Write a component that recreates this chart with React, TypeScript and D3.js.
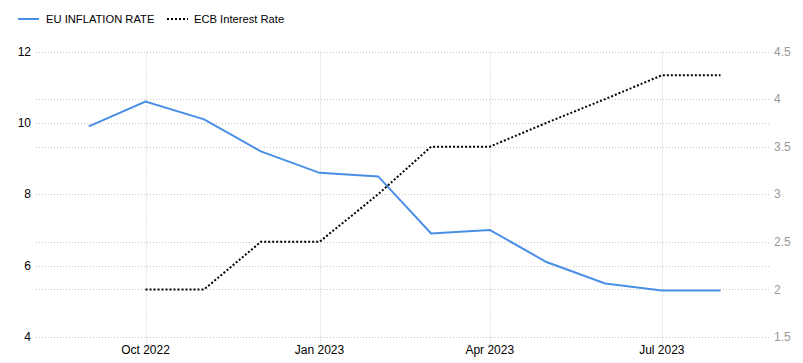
import React from "react";
import * as d3 from "d3";

const months = ["2022-09-01","2022-10-01","2022-11-01","2022-12-01","2023-01-01","2023-02-01","2023-03-01","2023-04-01","2023-05-01","2023-06-01","2023-07-01","2023-08-01"];
const inflation = [9.9, 10.6, 10.1, 9.2, 8.6, 8.5, 6.9, 7.0, 6.1, 5.5, 5.3, 5.3];
const ecbMonths = ["2022-10-01","2022-11-01","2022-12-01","2023-01-01","2023-02-01","2023-03-01","2023-04-01","2023-05-01","2023-06-01","2023-07-01","2023-08-01"];
const ecbRate = [2.0, 2.0, 2.5, 2.5, 3.0, 3.5, 3.5, 3.75, 4.0, 4.25, 4.25];
const leftTicks = [4, 6, 8, 10, 12];
const rightTicks = [1.5, 2, 2.5, 3, 3.5, 4, 4.5];
const xTicks = ["2022-10-01", "2023-01-01", "2023-04-01", "2023-07-01"];
const seriesNames = ["EU INFLATION RATE", "ECB Interest Rate"];

const W = 803, H = 363;
const left = 36, right = 770, top = 51.5, bottom = 337;
const parse = d3.timeParse("%Y-%m-%d");
const fmtX = d3.timeFormat("%b %Y");

export default function App() {
  const x = d3.scaleTime()
    .domain([parse("2022-08-02")!, parse("2023-08-28")!])
    .range([left, right]);
  // Calibrate x so Oct 1 2022 -> 145.5 and Aug 1 2023 -> 720.5
  const d0 = parse("2022-10-01")!, d1 = parse("2023-08-01")!;
  const k = (720.5 - 145.5) / (+d1 - +d0);
  x.domain([new Date(+d0 - (145.5 - left) / k), new Date(+d0 + (right - 145.5) / k)]);

  const yL = d3.scaleLinear().domain([4, 12]).range([bottom, top]);
  const yR = d3.scaleLinear().domain([1.5, 4.5]).range([bottom, top]);

  const infData = months.map((m, i) => ({ d: parse(m)!, v: inflation[i] }));
  const ecbData = ecbMonths.map((m, i) => ({ d: parse(m)!, v: ecbRate[i] }));
  const lineL = d3.line<{ d: Date; v: number }>().x(p => x(p.d)).y(p => yL(p.v));
  const lineR = d3.line<{ d: Date; v: number }>().x(p => x(p.d)).y(p => yR(p.v));

  const gridColor = "#c8c8c8";
  const font = "'Liberation Sans', Arial, sans-serif";

  return (
    <svg width={W} height={H} style={{ position: "fixed", left: 0, top: 0 }} fontFamily={font}>
      <rect width={W} height={H} fill="#fff" />
      {leftTicks.map(t => (
        <line key={"gl" + t} x1={left} x2={right} y1={Math.round(yL(t)) + 0.5} y2={Math.round(yL(t)) + 0.5}
          stroke={gridColor} strokeDasharray="1,2" />
      ))}
      {rightTicks.map(t => (
        <line key={"gr" + t} x1={left} x2={right} y1={Math.round(yR(t)) + 0.5} y2={Math.round(yR(t)) + 0.5}
          stroke={gridColor} strokeDasharray="1,2" />
      ))}
      {xTicks.map(t => {
        const xx = Math.round(x(parse(t)!)) + 0.5;
        return <line key={"gx" + t} x1={xx} x2={xx} y1={top} y2={bottom + 7} stroke={gridColor} strokeDasharray="1,2" />;
      })}
      {leftTicks.map(t => (
        <text key={"tl" + t} x={31} y={yL(t)} dy="0.35em" textAnchor="end" fontSize={12} fill="#000">{t}</text>
      ))}
      {rightTicks.map(t => (
        <text key={"tr" + t} x={774} y={yR(t)} dy="0.35em" textAnchor="start" fontSize={12} fill="#999">{t}</text>
      ))}
      {xTicks.map(t => (
        <text key={"tx" + t} x={x(parse(t)!)} y={354} textAnchor="middle" fontSize={12} fill="#000">{fmtX(parse(t)!)}</text>
      ))}
      <path d={lineL(infData) || ""} fill="none" stroke="#4a8fe7" strokeWidth={2} />
      <path d={lineR(ecbData) || ""} fill="none" stroke="#000" strokeWidth={2} strokeDasharray="2,2" />
      <line x1={18} x2={39} y1={19} y2={19} stroke="#4a8fe7" strokeWidth={2} />
      <text x={46} y={19} dy="0.35em" fontSize={11.2} fill="#000">{seriesNames[0]}</text>
      <line x1={167} x2={188} y1={19} y2={19} stroke="#000" strokeWidth={2} strokeDasharray="2,2" />
      <text x={194} y={19} dy="0.35em" fontSize={11.2} fill="#000">{seriesNames[1]}</text>
    </svg>
  );
}
